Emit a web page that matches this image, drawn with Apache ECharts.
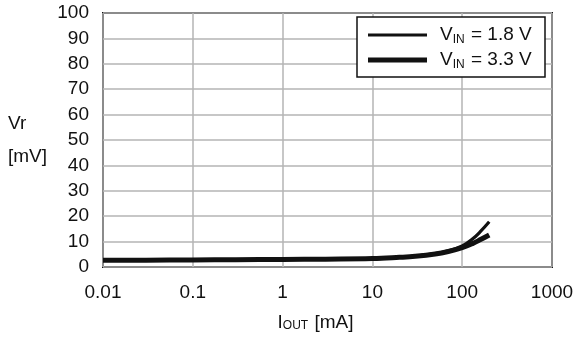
<!DOCTYPE html>
<html><head><meta charset="utf-8">
<script src="https://cdn.jsdelivr.net/npm/echarts@6/dist/echarts.min.js"></script>
<style>html,body{margin:0;padding:0;background:#fff}#c{width:584px;height:337px}</style>
</head><body><div id="c"></div>
<script>
const iout = [0.01, 0.03, 0.1, 0.3, 1, 3, 10, 20, 30, 50, 70, 100, 130, 160, 200];
const vr18 = [2.7, 2.7, 2.8, 2.9, 3.0, 3.1, 3.3, 3.8, 4.3, 5.3, 6.4, 8.3, 11.0, 14.0, 17.8];
const vr33 = [2.7, 2.7, 2.8, 2.9, 3.0, 3.1, 3.3, 3.8, 4.2, 5.1, 6.1, 7.6, 9.2, 10.8, 12.6];
const xTickLabels = ['0.01', '0.1', '1', '10', '100', '1000'];
const yTickLabels = ['0', '10', '20', '30', '40', '50', '60', '70', '80', '90', '100'];
const seriesNames = ['1.8', '3.3'];

const FONT = 'Liberation Sans, Arial, sans-serif';
const chart = echarts.init(document.getElementById('c'), null, {renderer: 'canvas'});
const pair = (xs, ys) => xs.map((x, i) => [x, ys[i]]);
const legendRich = {
  v: {fontSize: 19, fontFamily: FONT, color: '#111'},
  sub: {fontSize: 12, fontFamily: FONT, color: '#111', verticalAlign: 'bottom', padding: [0, 1, 0, 0]}
};
const legendFmt = (name) => '{v|V}{sub|IN}{v| = ' + name + ' V}';
chart.setOption({
  animation: false,
  grid: {left: 103, right: 32, top: 13, bottom: 68, show: true, borderColor: '#111', borderWidth: 2, backgroundColor: 'transparent'},
  graphic: [{
    type: 'rect', z: 50, shape: {x: 357, y: 17, width: 188, height: 60},
    style: {fill: '#fff', stroke: '#111', lineWidth: 1.5}
  }],
  legend: [
    {data: [{name: seriesNames[0], icon: 'rect'}], left: 368, top: 24, padding: 0, itemWidth: 59, itemHeight: 3, z: 60,
     formatter: legendFmt, textStyle: {lineHeight: 22, padding: [0, 0, 0, 8], rich: legendRich}},
    {data: [{name: seriesNames[1], icon: 'rect'}], left: 368, top: 49, padding: 0, itemWidth: 59, itemHeight: 5, z: 60,
     formatter: legendFmt, textStyle: {lineHeight: 22, padding: [0, 0, 0, 8], rich: legendRich}}
  ],
  xAxis: {
    type: 'log', logBase: 10, min: 0.01, max: 1000,
    name: '{i|I}{sub|OUT}{i| [mA]}', nameLocation: 'middle', nameGap: 46,
    nameTextStyle: {padding: [0, 24, 0, 0], rich: {
      i: {fontSize: 19, fontFamily: FONT, color: '#111'},
      sub: {fontSize: 12, fontFamily: FONT, color: '#111', verticalAlign: 'bottom', padding: [0, 1, 0, 0]}
    }},
    axisLine: {show: false}, axisTick: {show: false}, minorTick: {show: false},
    axisLabel: {fontSize: 19, fontFamily: FONT, color: '#111', margin: 16,
      formatter: (v) => xTickLabels[Math.round(Math.log10(v)) + 2]},
    splitLine: {show: true, lineStyle: {color: '#b4b4b4', width: 1.5}}
  },
  yAxis: {
    type: 'value', min: 0, max: 100, interval: 10,
    name: 'Vr\n[mV]', nameLocation: 'middle', nameRotate: 0, nameGap: 95,
    nameTextStyle: {align: 'left', fontSize: 19, fontFamily: FONT, color: '#111', lineHeight: 33},
    axisLine: {show: false}, axisTick: {show: false},
    axisLabel: {fontSize: 19, fontFamily: FONT, color: '#111', margin: 14,
      formatter: (v) => yTickLabels[Math.round(v / 10)]},
    splitLine: {show: true, lineStyle: {color: '#b4b4b4', width: 1.5}}
  },
  series: [
    {name: seriesNames[0], type: 'line', data: pair(iout, vr18), smooth: 0.4, showSymbol: false, symbol: 'none',
     color: '#111', lineStyle: {width: 3.2, color: '#111'}, z: 3},
    {name: seriesNames[1], type: 'line', data: pair(iout, vr33), smooth: 0.4, showSymbol: false, symbol: 'none',
     color: '#111', lineStyle: {width: 5, color: '#111'}, z: 4}
  ]
});
</script></body></html>
